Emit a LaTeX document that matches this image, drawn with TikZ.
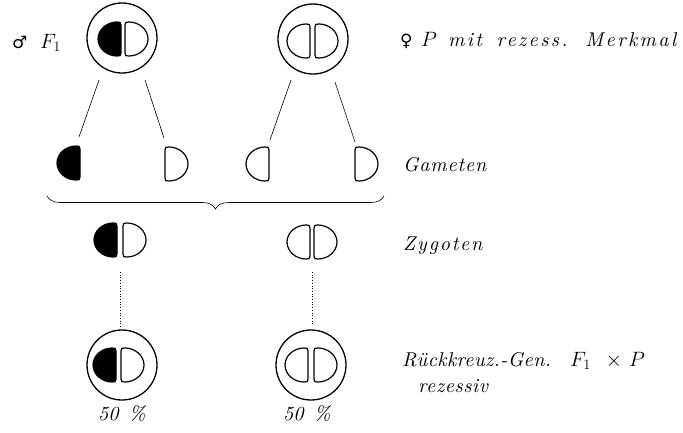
\documentclass[tikz,border=0pt]{standalone}
\usepackage{fontspec}
\setmainfont{lmroman10-regular.otf}[ItalicFont=lmroman10-italic.otf, BoldFont=lmroman10-bold.otf, BoldItalicFont=lmroman10-bolditalic.otf]
\newfontfamily\symfont{DejaVu Sans}
\usetikzlibrary{decorations.pathreplacing}
\newcommand{\mathbig}[1]{{\fontsize{22}{26}\selectfont$#1$}}
\tikzset{
  halfd/.pic={
    \path[pic actions, xscale=#1] (0,-14) .. controls (0,-17) and (1,-17) .. (4,-17)
      .. controls (14,-17) and (23,-9.5) .. (23,0)
      .. controls (23,9.5) and (14,17) .. (4,17)
      .. controls (1,17) and (0,17) .. (0,14) -- cycle;
  },
  halfline/.style={draw, line width=1.2pt},
  halfblack/.style={draw, fill=black, line width=1.2pt},
  cell/.style={circle, draw, line width=1.3pt, minimum size=70pt, inner sep=0pt},
  thinline/.style={line width=0.6pt},
  dotline/.style={line width=0.7pt, dotted},
  lbl/.style={font=\fontsize{20}{24}\selectfont\itshape\addfontfeatures{LetterSpace=#1}, anchor=base west, inner sep=0pt},
  lbl/.default=0,
}
\begin{document}
\begin{tikzpicture}[x=1pt,y=-1pt]
\useasboundingbox (0,0) rectangle (683,432);
% top circles
\node[cell] (c1) at (122,38) {};
\node[cell] (c2) at (313,39) {};
\pic[halfblack] at (121,39) {halfd=-1};
\pic[halfline] at (125,39) {halfd=1};
\pic[halfline] at (310,41) {halfd=-1};
\pic[halfline] at (315,41) {halfd=1};
% gametes
\coordinate (g1) at (80,163);
\coordinate (g2) at (165,164);
\coordinate (g3) at (269,164);
\coordinate (g4) at (355,164);
\pic[halfblack] at (g1) {halfd=-1};
\pic[halfline] at (g2) {halfd=1};
\pic[halfline] at (g3) {halfd=-1};
\pic[halfline] at (g4) {halfd=1};
% connectors
\coordinate (a1) at (99,80);  \coordinate (b1) at (79,137);
\coordinate (a2) at (145,80); \coordinate (b2) at (164,138);
\coordinate (a3) at (291,80); \coordinate (b3) at (270,140);
\coordinate (a4) at (335,82); \coordinate (b4) at (355,142);
\draw[thinline] (a1) -- (b1);
\draw[thinline] (a2) -- (b2);
\draw[thinline] (a3) -- (b3);
\draw[thinline] (a4) -- (b4);
% brace
\coordinate (br1) at (47,196);
\coordinate (br2) at (384,196);
\draw[thinline, decorate, decoration={brace, mirror, amplitude=13pt}] (br1) -- (br2);
% zygotes
\coordinate (z1) at (120,240);
\coordinate (z2) at (312,242);
\pic[halfblack] at (117,240) {halfd=-1};
\pic[halfline] at (123,240) {halfd=1};
\pic[halfline] at (310,242) {halfd=-1};
\pic[halfline] at (314,242) {halfd=1};
% dotted
\coordinate (d1a) at (120,272); \coordinate (d1b) at (120,327);
\coordinate (d2a) at (312,272); \coordinate (d2b) at (312,325);
\draw[dotline] (d1a) -- (d1b);
\draw[dotline] (d2a) -- (d2b);
% bottom circles
\node[cell] (c3) at (122,365) {};
\node[cell] (c4) at (311,365) {};
\pic[halfblack] at (116,365) {halfd=-1};
\pic[halfline] at (121,365) {halfd=1};
\pic[halfline] at (308,365) {halfd=-1};
\pic[halfline] at (314,365) {halfd=1};
% labels
\node[lbl] (ml) at (12,48) {\makebox[28pt][l]{\symfont\fontsize{17}{20}\selectfont ♂}\mathbig{F_1}};
\node[lbl=12] (fl) at (400,46) {\makebox[21pt][l]{\symfont\fontsize{17}{20}\selectfont ♀}\makebox[27pt][l]{\mathbig{P}}mit\hspace{5pt} rezess.\hspace{5pt} Merkmal};
\node[lbl=4] (gam) at (403,171) {Gameten};
\node[lbl=9] (zyg) at (403,250) {Zygoten};
\node[lbl=2] (rk) at (402,366) {\makebox[168pt][l]{Rückkreuz.-Gen.}\mathbig{F_1}\hspace{15pt}\mathbig{\times}\hspace{7pt}\mathbig{P}};
\node[lbl=3] (rez) at (418,392) {rezessiv};
\node[lbl] (p1) at (98,420) {50 \,\%};
\node[lbl] (p2) at (283,420) {50 \,\%};
\end{tikzpicture}
\end{document}
